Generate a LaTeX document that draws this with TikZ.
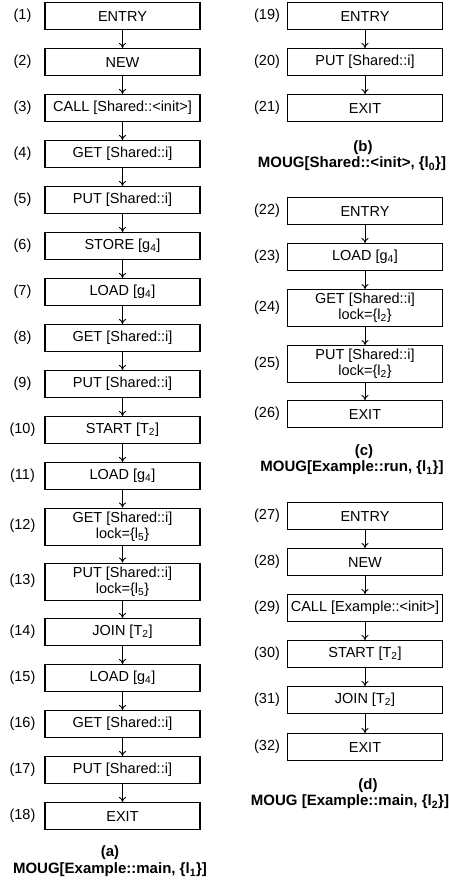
\documentclass[tikz,border=0pt]{standalone}
\usepackage{fontspec}
\setmainfont{Liberation Sans}
\usetikzlibrary{arrows.meta}
\tikzset{
  stepbox/.style={draw, line width=1.1pt, rectangle, minimum width=155pt, minimum height=27pt,
    inner sep=0pt, anchor=north, font=\fontsize{14.5}{16}\selectfont, align=center},
  dblbox/.style={stepbox, minimum height=37pt},
  numlabel/.style={font=\fontsize{14.5}{16}\selectfont, inner sep=0pt},
  flow/.style={draw, line width=0.9pt, -{To[length=5pt,width=7pt]}},
  capt/.style={font=\fontsize{15}{17}\bfseries\selectfont, inner sep=0pt},
}
\begin{document}
\begin{tikzpicture}[x=1pt,y=-1pt]
\useasboundingbox (0,0) rectangle (448,882);
% ---------- (a) left column ----------
\node[stepbox] (n1)  at (122.5,2)   {ENTRY};
\node[stepbox] (n2)  at (122.5,48)  {NEW};
\node[stepbox] (n3)  at (122.5,94)  {CALL [Shared::<init>]};
\node[stepbox] (n4)  at (122.5,140) {GET [Shared::i]};
\node[stepbox] (n5)  at (122.5,186) {PUT [Shared::i]};
\node[stepbox] (n6)  at (122.5,232) {STORE [g\textsubscript{4}]};
\node[stepbox] (n7)  at (122.5,278) {LOAD [g\textsubscript{4}]};
\node[stepbox] (n8)  at (122.5,324) {GET [Shared::i]};
\node[stepbox] (n9)  at (122.5,370) {PUT [Shared::i]};
\node[stepbox] (n10) at (122.5,416) {START [T\textsubscript{2}]};
\node[stepbox] (n11) at (122.5,462) {LOAD [g\textsubscript{4}]};
\node[dblbox]  (n12) at (122.5,507.5) {GET [Shared::i]\\lock=\{l\textsubscript{5}\}};
\node[dblbox]  (n13) at (122.5,562.5) {PUT [Shared::i]\\lock=\{l\textsubscript{5}\}};
\node[stepbox] (n14) at (122.5,618) {JOIN [T\textsubscript{2}]};
\node[stepbox] (n15) at (122.5,664) {LOAD [g\textsubscript{4}]};
\node[stepbox] (n16) at (122.5,710) {GET [Shared::i]};
\node[stepbox] (n17) at (122.5,756) {PUT [Shared::i]};
\node[stepbox] (n18) at (122.5,802) {EXIT};
\foreach \i/\y in {1/15.5,2/61.5,3/107.5,4/153.5,5/199.5,6/245.5,7/291.5,8/337.5,9/383.5,10/429.5,11/475.5,12/526,13/581,14/631.5,15/677.5,16/723.5,17/769.5,18/815.5}
  \node[numlabel] (l\i) at (22.5,\y) {(\i)};
\foreach \a/\b in {1/2,2/3,3/4,4/5,5/6,6/7,7/8,8/9,9/10,10/11,11/12,12/13,13/14,14/15,15/16,16/17,17/18}
  \draw[flow] (n\a) -- (n\b);
\node[capt] (capa) at (110,853) {(a)};
\node[capt] (moua) at (110,870) {MOUG[Example::main, \{l\textsubscript{1}\}]};
% ---------- (b) ----------
\node[stepbox] (n19) at (365,2)   {ENTRY};
\node[stepbox] (n20) at (365,48)  {PUT [Shared::i]};
\node[stepbox] (n21) at (365,94)  {EXIT};
\node[capt] (capb) at (363,148) {(b)};
\node[capt] (moub) at (352,164) {MOUG[Shared::<init>, \{l\textsubscript{0}\}]};
% ---------- (c) ----------
\node[stepbox] (n22) at (365,197) {ENTRY};
\node[stepbox] (n23) at (365,243) {LOAD [g\textsubscript{4}]};
\node[dblbox]  (n24) at (365,289) {GET [Shared::i]\\lock=\{l\textsubscript{2}\}};
\node[dblbox]  (n25) at (365,345) {PUT [Shared::i]\\lock=\{l\textsubscript{2}\}};
\node[stepbox] (n26) at (365,400) {EXIT};
\node[capt] (capc) at (364,452) {(c)};
\node[capt] (mouc) at (352,468) {MOUG[Example::run, \{l\textsubscript{1}\}]};
% ---------- (d) ----------
\node[stepbox] (n27) at (365,502) {ENTRY};
\node[stepbox] (n28) at (365,548) {NEW};
\node[stepbox] (n29) at (365,594) {CALL [Example::<init>]};
\node[stepbox] (n30) at (365,640) {START [T\textsubscript{2}]};
\node[stepbox] (n31) at (365,686) {JOIN [T\textsubscript{2}]};
\node[stepbox] (n32) at (365,733) {EXIT};
\node[capt] (capd) at (368,786) {(d)};
\node[capt] (moud) at (350,802) {MOUG [Example::main, \{l\textsubscript{2}\}]};
\foreach \i/\y in {19/15.5,20/61.5,21/107.5,22/210.5,23/256.5,24/307.5,25/363.5,26/413.5,27/515.5,28/561.5,29/607.5,30/653.5,31/699.5,32/746.5}
  \node[numlabel] (l\i) at (267,\y) {(\i)};
\foreach \a/\b in {19/20,20/21,22/23,23/24,24/25,25/26,27/28,28/29,29/30,30/31,31/32}
  \draw[flow] (n\a) -- (n\b);
\end{tikzpicture}
\end{document}
